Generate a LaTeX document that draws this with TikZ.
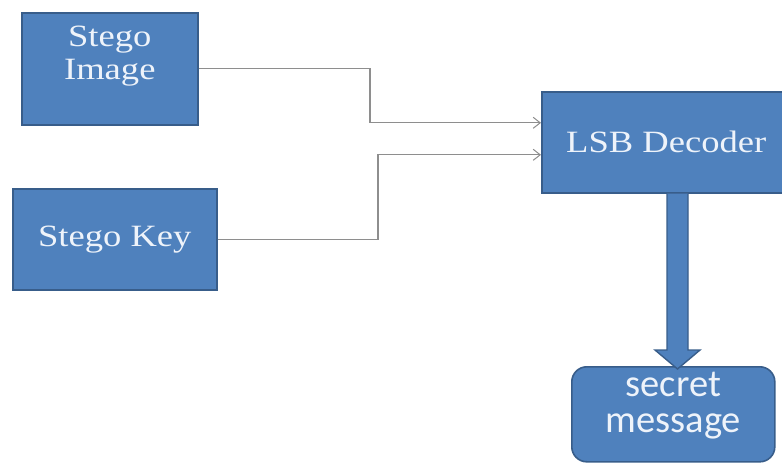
\documentclass[tikz,border=0pt]{standalone}
\usepackage{fontspec}
\setmainfont{Liberation Serif}[FakeStretch=1.18]
\newfontfamily\calfont{Carlito}
\usetikzlibrary{arrows.meta,calc}

\definecolor{boxfill}{HTML}{4F81BD}
\definecolor{boxline}{HTML}{385D8A}
\definecolor{boxtext}{HTML}{EEF3FA}
\definecolor{wire}{HTML}{8E8E8E}

\tikzset{
  blockbox/.style={draw=boxline, line width=1.6pt, fill=boxfill,
    text=boxtext, inner sep=0pt, align=center,
    font=\fontsize{31}{32.5}\selectfont},
  msgbox/.style={blockbox, rounded corners=15pt},
  msgtext/.style={text=boxtext, align=center,
    font=\calfont\fontsize{38.5}{36}\selectfont},
  wireline/.style={draw=wire, line width=1.1pt,
    -{Straight Barb[length=7pt,width=11pt,line width=1pt]}},
  fatarrow/.style={draw=boxline, line width=1.4pt, fill=boxfill, line join=miter}
}

\begin{document}
\begin{tikzpicture}[x=1pt,y=-1pt]
  \useasboundingbox (0,0) rectangle (782,463);

  % input blocks
  \node[blockbox, anchor=north west, minimum width=176pt, minimum height=112pt]
    (img) at (21,12) {Stego\\Image\\\mbox{}};
  \node[blockbox, anchor=north west, minimum width=204pt, minimum height=101pt]
    (key) at (12,188) {Stego Key};

  % decoder (runs off the right edge)
  \node[blockbox, anchor=north west, minimum width=249pt, minimum height=101pt]
    (dec) at (541,91) {LSB Decoder};

  % output block
  \node[msgbox, anchor=north west, minimum width=203pt, minimum height=95pt,
    label={[msgtext, yshift=9pt]center:secret\\message}]
    (msg) at (571,366) {};

  % junction columns of the two input wires
  \coordinate (j1) at (370,0);
  \coordinate (j2) at (378,0);
  \coordinate (in1) at ($(dec.west)+(0,-19.5)$);
  \coordinate (in2) at ($(dec.west)+(0,12.5)$);

  \draw[wireline] (img.east) -- (img.east -| j1) -- (j1 |- in1) -- (in1);
  \draw[wireline] (key.east) -- (key.east -| j2) -- (j2 |- in2) -- (in2);

  % thick block arrow from the decoder down to the message
  \coordinate (sl) at (667,0);
  \coordinate (sr) at (688,0);
  \coordinate (hl) at (655,350);
  \coordinate (hr) at (700,350);
  \draw[fatarrow] (sl |- dec.south) -- (sl |- hl) -- (hl)
    -- (677.5,369) -- (hr) -- (sr |- hr) -- (sr |- dec.south);
\end{tikzpicture}
\end{document}
